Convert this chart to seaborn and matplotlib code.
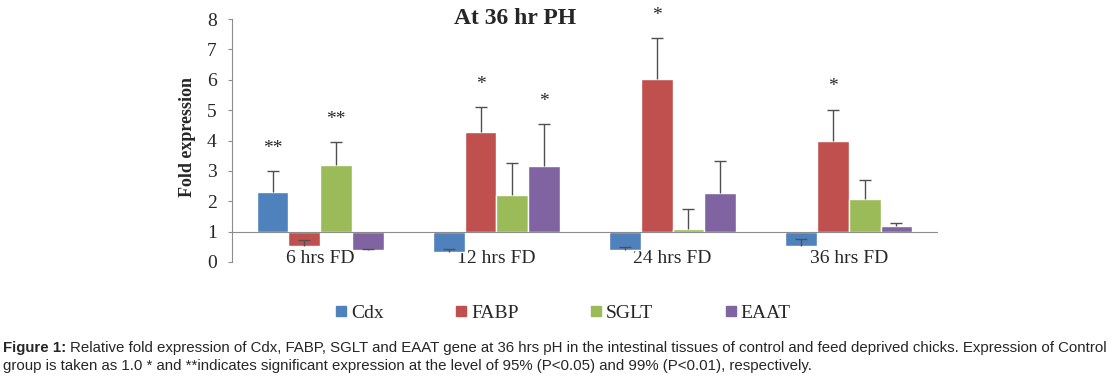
import pandas as pd
import numpy as np
import seaborn as sns
import matplotlib.pyplot as plt
from matplotlib.lines import Line2D

# Values (fold expression, control = 1.0)
groups = ['6 hrs FD', '12 hrs FD', '24 hrs FD', '36 hrs FD']
genes = ['Cdx', 'FABP', 'SGLT', 'EAAT']

cdx = [2.30, 0.34, 0.39, 0.53]
fabp = [0.54, 4.29, 6.04, 3.98]
sglt = [3.20, 2.20, 1.07, 2.07]
eaat = [0.39, 3.16, 2.28, 1.18]

cdx_err = [0.70, 0.08, 0.10, 0.22]
fabp_err = [0.18, 0.80, 1.34, 1.04]
sglt_err = [0.75, 1.05, 0.66, 0.62]
eaat_err = [0.03, 1.37, 1.05, 0.09]

# significance marks: (gene, group, mark)
stars = [('Cdx', '6 hrs FD', '**'), ('SGLT', '6 hrs FD', '**'),
         ('FABP', '12 hrs FD', '*'), ('EAAT', '12 hrs FD', '*'),
         ('FABP', '24 hrs FD', '*'), ('FABP', '36 hrs FD', '*')]

colors = ['#4F81BD', '#C0504D', '#9BBB59', '#8064A2']

# Building the table
values = [cdx, fabp, sglt, eaat]
errors = [cdx_err, fabp_err, sglt_err, eaat_err]
rows = []
for g, vals, errs in zip(genes, values, errors):
    for grp, v, e in zip(groups, vals, errs):
        rows.append({'gene': g, 'group': grp, 'value': v, 'err': e})
df = pd.DataFrame(rows)
df['height'] = df['value'] - 1  # bars start at control level 1.0

sns.set_style('white')
plt.rcParams['font.family'] = ['Liberation Serif', 'DejaVu Serif']

fig = plt.figure(figsize=(11.19, 3.82), dpi=100)
ax = fig.add_axes([232 / 1119, 1 - 262 / 382, 705 / 1119, 243 / 382])

sns.barplot(data=df, x='group', y='height', hue='gene', order=groups,
            hue_order=genes, palette=colors, saturation=1, width=0.72,
            errorbar=None, legend=False, bottom=1, ax=ax)

# Error bars (upper only, single cap) and stars
for g, cont in zip(genes, ax.containers):
    sub = df[df['gene'] == g].set_index('group').loc[groups]
    for rect, grp in zip(cont.patches, groups):
        x = rect.get_x() + rect.get_width() / 2
        v = sub.loc[grp, 'value']
        e = sub.loc[grp, 'err']
        ax.vlines(x, v, v + e, color='#505050', linewidth=1)
        ax.plot([x], [v + e], marker='_', markersize=8, markeredgewidth=1,
                color='#505050')
        for sg, sgrp, mark in stars:
            if sg == g and sgrp == grp:
                ax.text(x, v + e + 0.75, mark, ha='center', va='center',
                        fontsize=14)

ax.set_ylim(0, 8)
ax.set_xlim(-0.5, 3.5)
ax.set_yticks(range(0, 9))
ax.set_xlabel('')
ax.set_ylabel('')

for s in ['top', 'right']:
    ax.spines[s].set_visible(False)
ax.spines['bottom'].set_position(('data', 1))
ax.spines['bottom'].set_color('#8c8c8c')
ax.spines['left'].set_color('#8c8c8c')
ax.spines['bottom'].set_linewidth(0.8)
ax.spines['left'].set_linewidth(0.8)

ax.set_xticks([-0.5, 0.5, 1.5, 2.5, 3.5], minor=True)
ax.tick_params(axis='x', which='major', length=0, pad=13, labelsize=14)
ax.tick_params(axis='x', which='minor', length=4, direction='out',
               color='#8c8c8c', width=0.8)
ax.tick_params(axis='y', length=3, direction='out', color='#8c8c8c',
               width=0.8, labelsize=14, pad=8, left=True)

# Title and y label
fig.text(515 / 1119, 1 - 19 / 382, 'At 36 hr PH', ha='center', va='center',
         fontsize=17, fontweight='bold')
fig.text(188 / 1119, 1 - 137 / 382, 'Fold expression', ha='center',
         va='center', rotation=90, fontsize=13, fontweight='bold')

# Legend
handles = [Line2D([], [], marker='s', linestyle='none', markersize=6.5,
                  markerfacecolor=c, markeredgecolor=c) for c in colors]
fig.legend(handles, genes, loc='center', ncol=4, frameon=False,
           bbox_to_anchor=(563 / 1119, 1 - 313 / 382), fontsize=14,
           handlelength=0.6, handletextpad=0.2, columnspacing=3.7)

# Caption
cap1 = ('Relative fold expression of Cdx, FABP, SGLT and EAAT gene at 36 hrs pH '
        'in the intestinal tissues of control and feed deprived chicks. '
        'Expression of Control')
cap2 = ('group is taken as 1.0 * and **indicates significant expression at the '
        'level of 95% (P<0.05) and 99% (P<0.01), respectively.')
t = fig.text(3 / 1119, 1 - 348 / 382, 'Figure 1:', ha='left', va='center',
             fontsize=10.8, fontweight='bold', family='Liberation Sans')
fig.canvas.draw()
bb = t.get_window_extent()
fig.text((bb.x1 + 4) / 1119, 1 - 348 / 382, cap1, ha='left', va='center',
         fontsize=10.8, family='Liberation Sans')
fig.text(3 / 1119, 1 - 366 / 382, cap2, ha='left', va='center',
         fontsize=10.8, family='Liberation Sans')

plt.savefig('out.png', dpi=100)
